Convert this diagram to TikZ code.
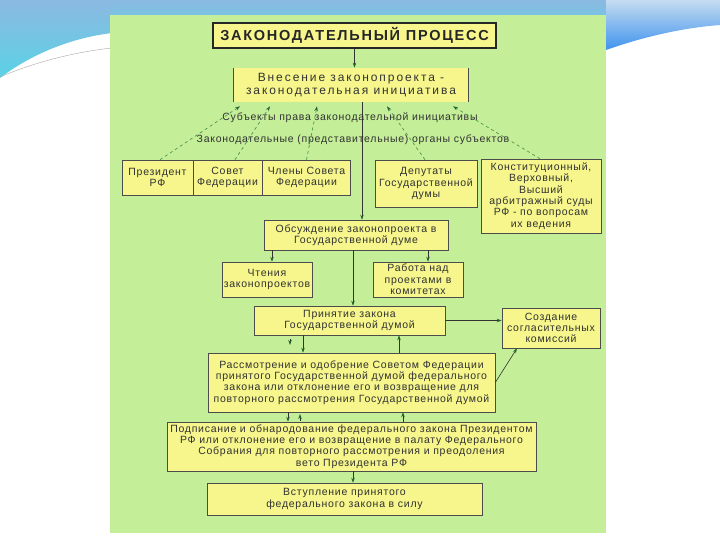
\documentclass[tikz,border=0pt]{standalone}
\usepackage{fontspec}
\setmainfont{Liberation Sans}
\newfontfamily\schemefont[LetterSpace=7]{Liberation Sans}
\newfontfamily\vnesfont[LetterSpace=16]{Liberation Sans}
\newfontfamily\titlefont[LetterSpace=12]{Liberation Sans}
\usetikzlibrary{arrows.meta}
\definecolor{panelGreen} {RGB}{196,238,152}
\definecolor{boxYellow}  {RGB}{246,246,140}
\definecolor{arrowGreen} {RGB}{40, 100, 50}
\definecolor{dashGreen}  {RGB}{80, 150, 80}
\definecolor{textGray}   {RGB}{50, 50,  50}
\definecolor{skyBlue}    {RGB}{140,185,225}
\definecolor{seaCyan}    {RGB}{90, 210,230}

\begin{document}
\begin{tikzpicture}[x=1pt,y=-1pt,
    box/.style={draw=black!70,line width=0.6pt,fill=boxYellow,inner sep=0pt,align=center,
                font=\schemefont\fontsize{10.5}{11.3}\selectfont,text=textGray},
    lbl/.style={inner sep=0pt,font=\schemefont\fontsize{10.5}{11.3}\selectfont,text=textGray},
    arr/.style={-{Stealth[length=5pt,width=3.5pt,color=arrowGreen]},black!80,line width=0.6pt},
    darr/.style={-{Stealth[length=5pt,width=3.5pt,color=arrowGreen]},dashGreen,dashed,line width=0.7pt}]
  \useasboundingbox (0,0) rectangle (720,540);
  % фон слайда
  \fill[white] (0,0) rectangle (720,540);
  \shade[top color=skyBlue,bottom color=skyBlue!60!seaCyan] (0,0) rectangle (720,16);
  \shade[top color=skyBlue,bottom color=seaCyan] (0,0) -- (112,0) -- (112,33)
    .. controls (70,38) and (30,55) .. (0,78) -- cycle;
  \draw[gray!70,line width=0.4pt] (0,77) .. controls (35,62) and (75,52) .. (112,48);
  \shade[top color=skyBlue!50!white,bottom color=seaCyan!70!blue] (606,0) -- (720,0) -- (720,25)
    .. controls (680,28) and (640,38) .. (606,50) -- cycle;
  \fill[panelGreen] (110,15) rectangle (606,533);

  \node[box,line width=1.6pt,draw=black!85,text=black!85,minimum width=283pt,minimum height=25pt,
        font=\titlefont\bfseries\fontsize{14.5}{16}\selectfont] (title) at (354.5,35.5)
        {ЗАКОНОДАТЕЛЬНЫЙ ПРОЦЕСС};
  \node[box,draw=none,minimum width=234pt,minimum height=34pt,text=black!80,
        font=\vnesfont\fontsize{12}{12.5}\selectfont] (vnes) at (351,85)
        {Внесение законопроекта -\\законодательная инициатива};
  \draw[black!70,line width=0.6pt] (vnes.north west) -- (vnes.south west)
                                   (vnes.north east) -- (vnes.south east);

  \node[lbl] (subj) at (350,118) {Субъекты права законодательной инициативы};
  \node[lbl] (organy) at (353,140) {Законодательные (представительные) органы субъектов};

  \node[box,minimum width=71pt,minimum height=35pt] (prez) at (157.5,177.5) {Президент\\РФ};
  \node[box,minimum width=69pt,minimum height=35pt] (sovet) at (227.5,177.5) {Совет\\Федерации};
  \node[box,minimum width=88pt,minimum height=35pt] (chleny) at (306.5,177.5) {Члены Совета\\Федерации};
  \node[box,minimum width=102pt,minimum height=47pt] (deput) at (426,183.5)
        {Депутаты\\Государственной\\думы};
  \node[box,minimum width=120pt,minimum height=74pt] (konst) at (541,196)
        {Конституционный,\\Верховный,\\Высший\\арбитражный суды\\РФ - по вопросам\\их ведения};

  \node[box,minimum width=184pt,minimum height=30pt] (obsuzh) at (356,235)
        {Обсуждение законопроекта в\\Государственной думе};
  \node[box,minimum width=90pt,minimum height=35pt] (chtenia) at (267,279.5) {Чтения\\законопроектов};
  \node[box,minimum width=90pt,minimum height=35pt] (rabota) at (418,279.5)
        {Работа над\\проектами в\\комитетах};
  \node[box,minimum width=191pt,minimum height=29pt] (prinyat) at (349.5,320.5)
        {Принятие закона\\Государственной думой};
  \node[box,minimum width=98pt,minimum height=40pt] (sozd) at (551,328)
        {Создание\\согласительных\\комиссий};
  \node[box,minimum width=287pt,minimum height=59pt] (rassm) at (351.5,382.5)
        {Рассмотрение и одобрение Советом Федерации\\принятого Государственной думой федерального\\
         закона или отклонение его и возвращение для\\повторного рассмотрения Государственной думой};
  \node[box,minimum width=369pt,minimum height=49pt] (podp) at (351.5,446.5)
        {Подписание и обнародование федерального закона Президентом\\
         РФ или отклонение его и возвращение в палату Федерального\\
         Собрания для повторного рассмотрения и преодоления\\вето Президента РФ};
  \node[box,minimum width=275pt,minimum height=32pt] (vstup) at (344.5,499)
        {Вступление принятого\\федерального закона в силу};

  % связи
  \draw[arr] (title.south) -- (title.south |- vnes.north);
  \draw[arr] ([xshift=11pt]vnes.south) -- ([xshift=11pt]vnes.south |- obsuzh.north);
  \foreach \src/\dx/\ex in {prez/2.5/-111, sovet/7.5/-81, chleny/0/-34, deput/-1/36, konst/-1/102}
    \draw[darr] ([xshift=\dx pt]\src.north) -- ([xshift=\ex pt,yshift=-4pt]vnes.south);
  \foreach \x/\a/\b in {272/obsuzh/chtenia, 428/obsuzh/rabota, 353/obsuzh/prinyat,
                        303/prinyat/rassm, 288/rassm/podp, 353/podp/vstup}{
    \coordinate (colx) at (\x,0);
    \draw[arr] (colx |- \a.south) -- (colx |- \b.north);
  }
  \foreach \x/\a/\b in {399/rassm/prinyat, 403/podp/rassm}{
    \coordinate (colx) at (\x,0);
    \draw[arr] (colx |- \a.north) -- (colx |- \b.south);
  }
  \coordinate (tickA) at (290,339);
  \coordinate (tickB) at (300,421);
  \draw[arr] (tickA) -- ++(0,6);
  \draw[arr] (tickB) -- ++(0,-7);
  \draw[arr] (prinyat.east) -- (prinyat.east -| sozd.west);
  \draw[arr] (rassm.east) -- ([xshift=-34pt]sozd.south);
\end{tikzpicture}
\end{document}
